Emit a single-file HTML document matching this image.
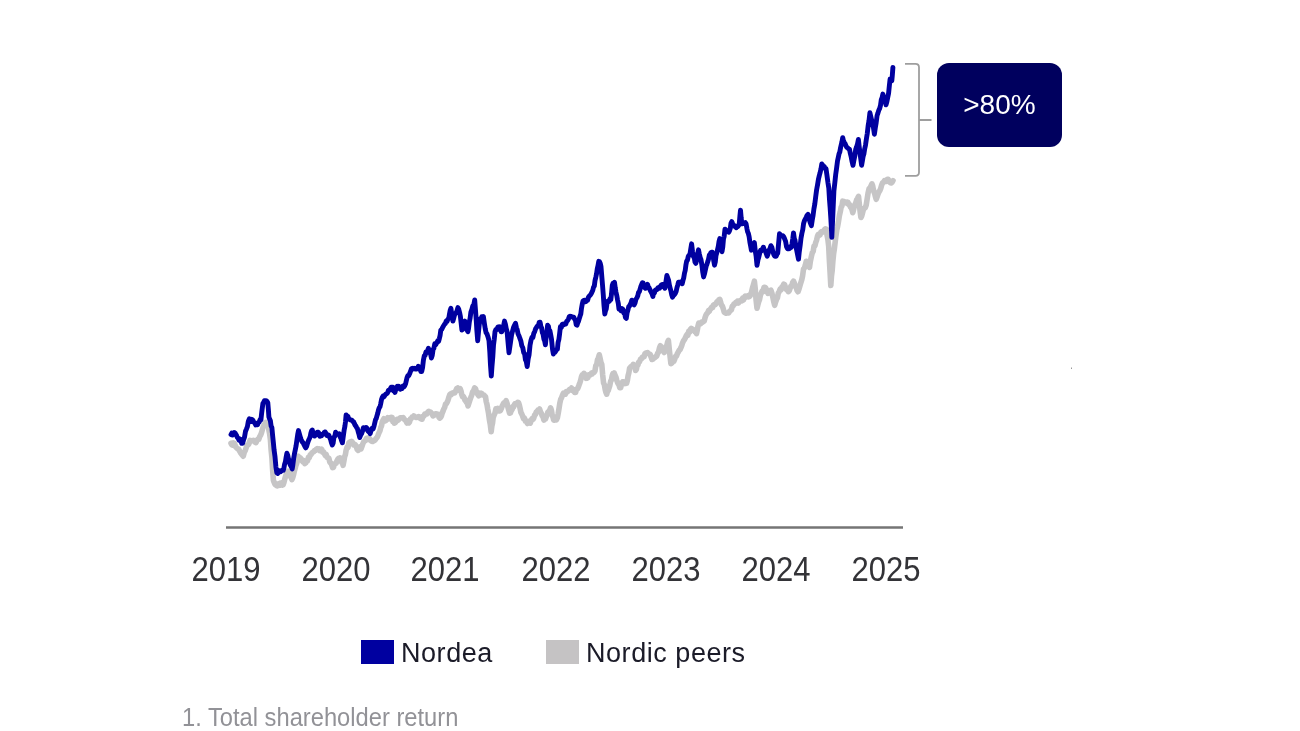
<!DOCTYPE html>
<html lang="en">
<head>
<meta charset="utf-8">
<title>Total shareholder return</title>
<style>
html,body{margin:0;padding:0;background:#fff;}
body{width:1300px;height:731px;position:relative;overflow:hidden;font-family:"Liberation Sans",sans-serif;}
svg{position:absolute;left:0;top:0;}
.yr{position:absolute;top:548.5px;width:120px;margin-left:-60px;text-align:center;font-size:35.5px;line-height:40px;color:#333337;transform:scaleX(0.874);transform-origin:50% 50%;white-space:nowrap;}
.leg{position:absolute;top:637px;letter-spacing:0.55px;font-size:27px;line-height:32px;color:#1b1b28;white-space:nowrap;}
.sw{position:absolute;top:639.5px;width:33px;height:24.5px;}
.box{position:absolute;left:937.2px;top:63.2px;width:124.5px;height:84px;border-radius:12px;background:#00005e;color:#fff;font-size:28px;line-height:84px;text-align:center;}
.foot{position:absolute;left:182px;top:700.7px;font-size:25px;line-height:32px;color:#929297;white-space:nowrap;transform:scaleX(0.9485);transform-origin:0 50%;}
</style>
</head>
<body>
<svg width="1300" height="731" viewBox="0 0 1300 731">
<path d="M231.0 443.2 L231.8 444.9 L232.6 445.2 L233.4 442.9 L234.2 443.3 L235.0 444.9 L235.9 447.1 L236.8 448.0 L237.7 449.0 L238.6 449.1 L239.5 450.9 L240.4 452.5 L241.4 453.9 L242.4 455.1 L243.3 456.2 L244.2 452.5 L245.2 450.7 L246.1 447.9 L247.0 445.6 L247.8 445.0 L248.5 444.5 L249.2 443.0 L250.0 440.4 L250.9 440.8 L251.7 440.9 L252.6 440.6 L253.4 440.3 L254.3 440.6 L255.1 442.2 L256.0 442.6 L256.9 440.6 L257.8 439.2 L258.8 439.3 L259.7 436.7 L260.6 435.1 L261.5 432.9 L262.4 429.5 L263.3 426.5 L264.2 425.0 L265.1 423.1 L265.9 422.4 L266.6 423.9 L267.4 425.7 L268.1 424.6 L268.9 430.1 L269.6 433.6 L270.4 439.6 L271.1 449.8 L271.9 457.7 L272.6 469.8 L273.4 480.2 L274.1 482.2 L274.9 484.1 L275.6 485.0 L276.4 485.5 L277.3 485.8 L278.3 483.9 L279.2 485.2 L280.2 483.2 L280.9 485.0 L281.7 482.9 L282.4 485.1 L283.2 484.7 L283.9 482.7 L284.7 479.3 L285.4 476.9 L286.2 474.2 L286.9 473.2 L287.7 473.5 L288.4 471.2 L289.3 473.3 L290.1 476.3 L291.0 477.0 L291.9 479.5 L292.7 477.8 L293.5 475.0 L294.4 470.9 L295.2 468.2 L295.9 465.4 L296.7 463.5 L297.4 459.9 L298.2 456.2 L299.1 457.3 L300.1 457.6 L301.1 459.0 L302.0 460.7 L302.9 461.8 L303.9 460.8 L304.8 463.6 L305.7 462.9 L306.6 460.6 L307.5 460.9 L308.4 457.4 L309.3 457.7 L310.2 454.7 L311.1 454.5 L311.9 453.0 L312.8 452.2 L313.6 451.8 L314.5 450.5 L315.4 450.4 L316.3 449.3 L317.2 448.6 L318.1 449.2 L319.0 448.8 L319.9 450.7 L320.8 450.4 L321.7 449.3 L322.6 452.2 L323.5 451.8 L324.4 453.7 L325.3 455.4 L326.2 454.5 L327.1 457.3 L328.0 457.8 L328.9 458.4 L329.8 462.2 L330.8 463.0 L331.7 464.8 L332.6 467.6 L333.5 467.4 L334.4 463.7 L335.2 463.6 L336.1 463.2 L337.0 460.8 L337.8 459.3 L338.5 458.4 L339.2 459.7 L340.0 457.8 L340.8 459.4 L341.6 462.2 L342.3 462.0 L343.1 465.3 L343.9 461.1 L344.6 456.8 L345.4 454.6 L346.1 450.3 L347.1 447.0 L348.0 447.5 L348.9 442.7 L349.9 442.0 L350.8 443.1 L351.7 441.5 L352.6 442.6 L353.5 444.8 L354.4 444.3 L355.3 444.8 L356.3 446.4 L357.2 449.4 L358.2 450.3 L359.1 449.0 L360.0 447.0 L361.0 448.9 L361.9 446.5 L362.8 443.8 L363.7 441.8 L364.6 441.1 L365.5 440.3 L366.4 438.3 L367.3 439.5 L368.2 438.1 L369.0 439.3 L369.9 438.9 L370.8 440.6 L371.7 441.3 L372.6 441.5 L373.5 440.8 L374.4 440.7 L375.3 439.7 L376.2 438.3 L377.1 437.5 L378.1 435.1 L379.1 432.5 L380.0 430.7 L380.8 427.3 L381.5 425.9 L382.2 422.3 L383.0 420.2 L383.9 418.8 L384.9 419.6 L385.8 420.7 L386.7 419.4 L387.6 417.8 L388.5 418.8 L389.5 417.8 L390.4 417.7 L391.3 417.2 L392.1 417.6 L392.8 421.6 L393.6 421.0 L394.3 423.2 L395.2 422.8 L396.1 421.4 L397.0 419.5 L397.9 420.3 L398.8 419.4 L399.7 418.2 L400.5 417.8 L401.4 417.7 L402.3 417.9 L403.1 417.6 L404.0 418.7 L404.9 420.1 L405.9 420.6 L406.9 423.0 L407.8 422.5 L408.7 422.9 L409.5 422.1 L410.4 418.9 L411.2 418.6 L412.1 417.1 L412.9 417.2 L413.8 416.0 L414.8 416.6 L415.8 417.4 L416.7 417.4 L417.7 417.0 L418.6 416.7 L419.4 417.6 L420.3 418.4 L421.1 417.3 L422.0 419.2 L423.0 416.4 L423.9 416.2 L424.9 413.9 L425.9 413.7 L426.8 414.0 L427.8 412.1 L428.8 411.3 L429.7 412.1 L430.5 412.1 L431.4 413.2 L432.2 414.1 L433.0 415.9 L433.8 415.4 L434.6 414.7 L435.5 413.7 L436.3 413.7 L437.2 414.9 L438.0 414.4 L438.9 417.2 L439.7 418.1 L440.6 417.5 L441.4 416.0 L442.2 413.0 L443.1 411.0 L443.9 408.8 L444.7 407.4 L445.5 404.2 L446.4 403.6 L447.2 402.2 L448.0 400.2 L448.9 397.1 L449.7 394.8 L450.5 394.0 L451.3 394.6 L452.1 393.0 L453.0 393.2 L453.8 392.9 L454.8 392.9 L455.7 390.8 L456.7 388.6 L457.6 388.0 L458.4 390.1 L459.2 389.0 L460.1 388.6 L460.9 390.7 L461.7 394.3 L462.5 396.7 L463.3 396.3 L464.1 397.8 L465.0 400.2 L465.8 400.0 L466.5 402.5 L467.3 402.5 L468.0 406.0 L468.9 403.1 L469.8 400.3 L470.7 397.8 L471.7 395.3 L472.6 392.0 L473.6 390.7 L474.6 388.0 L475.4 388.4 L476.2 390.7 L477.1 392.6 L477.9 394.6 L478.8 395.8 L479.6 393.1 L480.5 395.0 L481.3 393.2 L482.2 394.0 L483.0 394.9 L483.9 395.0 L484.7 395.9 L485.5 396.7 L486.2 401.5 L487.0 404.5 L487.7 408.8 L488.5 413.1 L489.4 419.7 L490.3 424.6 L491.2 431.8 L491.9 425.8 L492.5 423.3 L493.2 417.5 L494.1 415.0 L495.0 413.1 L495.9 408.8 L496.9 409.9 L497.9 408.5 L498.8 410.9 L499.8 411.0 L500.6 410.2 L501.4 408.4 L502.2 406.0 L503.0 404.4 L503.8 403.0 L504.6 402.4 L505.3 402.4 L506.1 400.6 L507.0 403.1 L507.9 407.0 L508.7 410.0 L509.6 413.2 L510.4 412.9 L511.2 410.8 L512.1 409.5 L512.9 406.6 L513.7 406.8 L514.5 404.4 L515.2 403.5 L516.0 403.5 L516.9 403.2 L517.7 402.3 L518.6 402.8 L519.4 405.4 L520.2 408.9 L520.9 412.4 L521.7 413.9 L522.6 416.0 L523.5 418.6 L524.5 418.2 L525.4 421.3 L526.4 421.2 L527.4 423.5 L528.3 421.3 L529.3 422.5 L530.3 423.1 L531.2 420.2 L532.0 418.7 L532.9 419.5 L533.7 418.2 L534.6 415.1 L535.4 414.5 L536.3 412.0 L537.1 411.4 L537.9 410.2 L538.8 410.5 L539.6 409.0 L540.5 411.8 L541.3 413.3 L542.2 415.7 L543.0 416.7 L543.9 420.1 L544.7 419.0 L545.5 418.9 L546.2 417.1 L547.0 415.1 L547.9 412.1 L548.8 411.5 L549.7 410.3 L550.6 407.8 L551.4 410.1 L552.2 415.1 L552.9 416.9 L553.7 420.1 L554.6 420.1 L555.5 418.6 L556.5 419.7 L557.4 417.6 L558.2 413.5 L559.1 408.0 L559.9 402.8 L560.7 399.3 L561.6 397.7 L562.4 395.4 L563.4 393.2 L564.4 394.2 L565.3 394.3 L566.3 391.5 L567.3 391.7 L568.2 391.0 L569.0 390.2 L569.9 389.2 L570.7 389.4 L571.6 388.0 L572.4 390.4 L573.2 390.8 L573.9 391.2 L574.7 392.4 L575.6 392.4 L576.5 389.1 L577.5 388.9 L578.4 386.8 L579.1 384.8 L579.9 382.7 L580.6 380.5 L581.4 377.0 L582.2 374.9 L583.1 374.9 L583.9 373.3 L584.7 374.2 L585.5 376.3 L586.2 378.4 L587.0 378.2 L587.9 377.6 L588.7 374.8 L589.6 375.2 L590.4 374.9 L591.3 373.3 L592.2 373.8 L593.1 372.5 L594.1 372.4 L595.0 370.8 L595.8 365.7 L596.7 364.7 L597.5 359.7 L598.4 357.9 L599.3 354.8 L600.1 358.4 L601.0 362.5 L601.8 364.6 L602.7 375.0 L603.6 383.1 L604.4 384.7 L605.2 389.6 L605.9 392.2 L606.7 394.2 L607.5 391.1 L608.2 390.6 L609.0 388.0 L609.8 385.6 L610.6 381.4 L611.4 379.9 L612.2 375.7 L612.9 373.7 L613.5 374.2 L614.2 373.0 L615.1 375.2 L615.9 377.1 L616.8 380.3 L617.5 382.4 L618.3 384.0 L619.0 385.0 L619.8 387.8 L620.7 387.7 L621.6 383.5 L622.6 381.8 L623.5 381.8 L624.3 382.1 L625.0 383.6 L625.8 383.4 L626.6 383.3 L627.4 380.3 L628.1 375.8 L628.9 372.6 L629.6 368.3 L630.5 367.2 L631.4 366.4 L632.3 366.4 L633.2 364.4 L634.1 365.2 L634.9 366.6 L635.6 370.5 L636.4 369.2 L637.1 365.4 L637.9 365.0 L638.6 362.2 L639.5 361.8 L640.5 359.3 L641.5 358.8 L642.4 357.0 L643.3 357.1 L644.1 356.6 L645.0 353.7 L645.9 353.0 L646.7 352.9 L647.6 352.5 L648.5 353.5 L649.4 354.1 L650.2 354.4 L651.1 357.1 L652.0 359.5 L652.9 359.2 L653.9 358.0 L654.8 357.8 L655.8 356.6 L656.7 356.2 L657.6 353.4 L658.5 352.1 L659.5 347.8 L660.4 345.7 L661.4 347.8 L662.3 349.1 L663.2 350.9 L664.2 352.5 L665.0 351.3 L665.9 346.4 L666.7 346.2 L667.6 342.2 L668.4 340.4 L669.2 348.6 L670.1 356.8 L670.9 363.7 L671.9 363.0 L672.8 361.1 L673.8 361.3 L674.7 359.2 L675.6 356.2 L676.5 356.0 L677.4 353.5 L678.3 352.1 L679.2 350.2 L680.1 349.5 L680.9 347.7 L681.8 345.4 L682.6 342.8 L683.5 340.8 L684.3 339.8 L685.2 338.2 L686.1 336.0 L686.9 334.7 L687.8 335.4 L688.7 331.4 L689.6 332.2 L690.4 329.4 L691.3 328.4 L692.2 328.9 L693.0 329.6 L693.9 329.7 L694.8 331.7 L695.6 331.7 L696.5 333.6 L697.3 329.9 L698.0 326.0 L698.8 323.1 L699.7 324.0 L700.6 323.8 L701.5 322.0 L702.4 322.3 L703.3 321.6 L704.2 321.1 L705.1 317.5 L706.0 315.0 L706.9 313.6 L707.8 312.6 L708.5 310.7 L709.3 311.2 L710.0 309.4 L710.8 308.8 L711.7 307.3 L712.6 307.5 L713.6 304.8 L714.5 304.5 L715.4 304.6 L716.3 303.2 L717.1 301.6 L718.0 302.0 L718.9 299.7 L719.8 299.3 L720.7 302.7 L721.5 305.1 L722.4 306.1 L723.3 308.9 L724.1 311.9 L725.0 312.8 L725.9 313.2 L726.8 313.0 L727.8 313.0 L728.7 312.9 L729.6 311.3 L730.5 310.6 L731.4 309.7 L732.3 306.2 L733.2 305.7 L734.1 303.8 L735.0 303.9 L735.8 302.5 L736.7 302.2 L737.5 301.1 L738.4 303.0 L739.2 300.8 L740.1 300.8 L741.0 300.2 L741.8 300.9 L742.7 298.2 L743.5 300.0 L744.4 297.0 L745.2 296.1 L746.1 297.0 L747.0 296.1 L747.9 295.7 L748.8 296.9 L749.7 296.4 L750.6 294.8 L751.5 292.2 L752.5 287.8 L753.5 284.7 L754.4 281.2 L755.3 289.4 L756.1 300.3 L757.0 308.3 L757.8 305.0 L758.7 301.7 L759.5 299.7 L760.4 295.3 L761.2 293.3 L762.1 291.2 L763.0 291.5 L764.0 287.5 L764.9 287.2 L765.6 287.7 L766.4 289.4 L767.1 291.0 L767.9 293.3 L768.6 292.3 L769.4 291.0 L770.1 290.5 L770.9 290.2 L771.9 293.2 L772.8 297.0 L773.8 301.9 L774.7 305.3 L775.6 302.1 L776.5 299.5 L777.4 297.9 L778.3 293.1 L779.2 291.7 L780.1 289.1 L781.0 289.8 L781.9 287.0 L782.8 286.5 L783.7 284.2 L784.6 284.6 L785.5 287.3 L786.5 289.7 L787.4 289.7 L788.3 291.7 L789.2 290.8 L790.0 288.5 L790.9 286.1 L791.8 286.2 L792.6 282.6 L793.5 281.2 L794.4 283.2 L795.3 285.8 L796.2 287.0 L797.1 290.6 L798.0 291.7 L799.0 289.0 L799.9 286.0 L800.8 282.8 L801.8 279.7 L802.6 275.9 L803.5 269.1 L804.4 268.0 L805.4 264.9 L806.3 261.3 L807.1 262.7 L807.9 264.0 L808.7 265.9 L809.5 267.3 L810.4 261.1 L811.4 256.4 L812.3 252.7 L813.2 251.4 L814.0 246.1 L814.9 245.8 L815.8 242.2 L816.6 240.2 L817.5 236.2 L818.4 234.2 L819.2 234.3 L820.0 235.0 L820.9 232.0 L821.8 231.6 L822.6 232.1 L823.5 230.9 L824.5 229.6 L825.4 228.8 L826.3 229.1 L827.1 235.4 L827.9 239.5 L828.7 246.5 L829.4 260.9 L830.1 272.9 L830.8 285.5 L831.5 275.9 L832.2 270.3 L832.9 260.9 L833.6 253.9 L834.4 248.5 L835.1 242.6 L835.9 236.2 L836.7 230.5 L837.5 227.0 L838.4 221.9 L839.4 215.5 L840.3 211.7 L841.1 207.3 L841.9 206.0 L842.7 201.2 L843.6 202.3 L844.4 201.6 L845.3 202.3 L846.1 203.0 L847.0 202.1 L847.9 202.2 L848.7 204.5 L849.5 204.6 L850.4 206.9 L851.2 207.7 L852.0 209.6 L852.8 212.7 L853.8 208.6 L854.7 205.0 L855.7 203.1 L856.6 200.0 L857.6 198.3 L858.5 196.4 L859.3 203.8 L860.1 211.5 L860.9 217.5 L861.7 216.1 L862.5 213.0 L863.3 209.8 L864.3 208.2 L865.2 207.9 L866.2 205.0 L867.2 198.6 L868.1 192.9 L869.1 188.7 L870.0 188.1 L871.0 185.9 L871.9 183.9 L872.6 185.6 L873.2 188.7 L873.9 191.6 L874.7 193.6 L875.4 196.5 L876.2 199.3 L877.2 196.5 L878.1 193.9 L879.1 191.6 L880.0 190.3 L880.8 188.2 L881.6 185.3 L882.5 183.0 L883.5 182.2 L884.4 180.8 L885.4 181.5 L886.3 181.4 L887.3 179.2 L888.2 179.3 L889.2 181.7 L890.1 182.6 L891.1 183.0 L892.0 182.3 L893.0 180.6" fill="none" stroke="#c6c5c6" stroke-width="5.6" stroke-linejoin="round" stroke-linecap="round"/>
<path d="M231.0 434.6 L231.8 433.1 L232.6 435.0 L233.4 434.4 L234.2 432.5 L235.0 432.9 L235.8 434.2 L236.5 435.3 L237.2 437.3 L238.0 438.1 L238.9 440.1 L239.8 438.9 L240.8 439.8 L241.7 443.4 L242.6 443.4 L243.6 439.7 L244.5 437.2 L245.5 431.3 L246.4 429.2 L247.4 426.6 L248.3 421.5 L249.3 418.9 L250.2 421.0 L251.1 421.5 L252.0 419.4 L252.9 420.1 L253.8 422.3 L254.8 423.0 L255.7 424.9 L256.7 423.6 L257.6 424.6 L258.4 422.5 L259.2 422.1 L260.1 419.6 L260.9 420.0 L261.6 413.6 L262.2 408.8 L262.9 403.5 L263.6 402.6 L264.4 400.8 L265.1 400.8 L266.0 400.6 L266.9 401.2 L267.8 402.8 L268.4 409.8 L268.9 417.0 L269.6 419.0 L270.4 420.8 L271.1 426.0 L271.9 427.6 L272.6 435.3 L273.4 443.1 L274.1 450.2 L275.0 456.7 L275.9 466.8 L276.8 472.7 L277.8 473.4 L278.8 470.6 L279.7 470.8 L280.7 471.6 L281.7 470.5 L282.4 470.4 L283.2 470.4 L283.9 468.2 L284.6 464.2 L285.4 461.8 L286.1 457.5 L286.9 453.2 L287.7 455.1 L288.4 458.5 L289.2 460.7 L289.9 464.0 L290.7 465.9 L291.4 466.9 L292.2 468.9 L292.9 464.5 L293.7 458.1 L294.4 454.1 L295.2 450.2 L296.0 446.3 L296.9 440.1 L297.7 434.5 L298.5 430.6 L299.4 433.8 L300.3 437.2 L301.2 439.6 L302.1 441.8 L303.0 442.5 L303.9 444.4 L304.8 446.3 L305.7 447.9 L306.6 446.5 L307.5 443.4 L308.4 440.8 L309.3 438.8 L310.2 436.6 L310.9 432.9 L311.6 430.7 L312.3 430.0 L313.0 432.7 L313.8 435.5 L314.5 436.0 L315.4 435.3 L316.4 433.8 L317.4 432.1 L318.3 432.2 L319.0 433.5 L319.8 436.3 L320.5 436.0 L321.4 435.9 L322.4 434.2 L323.4 434.3 L324.3 432.2 L325.2 431.9 L326.1 433.4 L327.0 435.4 L327.9 434.8 L328.8 435.2 L329.7 437.5 L330.6 439.4 L331.4 442.7 L332.3 445.0 L333.1 443.3 L334.0 437.0 L334.8 436.3 L335.6 432.2 L336.5 433.6 L337.5 434.2 L338.4 434.1 L339.3 433.7 L340.1 437.0 L340.9 438.3 L341.6 440.7 L342.4 442.8 L343.2 437.0 L344.1 430.3 L344.9 426.2 L345.5 421.7 L346.1 414.9 L346.9 416.2 L347.8 416.2 L348.6 418.3 L349.4 419.4 L350.2 419.8 L351.1 419.9 L351.9 420.3 L352.8 421.4 L353.6 421.7 L354.4 423.6 L355.1 425.1 L355.9 426.1 L356.7 427.7 L357.4 428.6 L358.2 431.7 L358.9 434.0 L359.7 437.5 L360.6 435.3 L361.5 433.8 L362.5 431.1 L363.4 427.7 L364.3 428.9 L365.3 429.1 L366.2 427.5 L367.2 428.5 L367.9 430.9 L368.7 431.7 L369.4 431.1 L370.2 433.7 L371.1 430.3 L372.1 428.4 L373.1 428.9 L374.0 426.2 L374.8 422.8 L375.5 419.7 L376.2 418.7 L377.0 415.7 L377.8 413.0 L378.5 409.8 L379.2 407.9 L380.0 406.7 L380.7 403.8 L381.5 399.6 L382.2 397.6 L383.1 396.1 L384.0 396.8 L384.9 395.2 L385.8 394.1 L386.7 393.9 L387.6 392.7 L388.5 390.1 L389.4 390.1 L390.2 389.1 L391.1 387.2 L392.0 387.1 L392.8 387.2 L393.5 391.0 L394.2 391.1 L395.0 392.4 L395.8 389.4 L396.5 388.7 L397.3 386.3 L398.1 388.1 L398.8 386.3 L399.6 387.0 L400.3 389.3 L401.2 387.4 L402.1 388.5 L403.0 386.0 L403.9 387.0 L404.8 385.6 L405.6 383.7 L406.3 380.8 L407.1 377.4 L407.8 375.8 L408.7 375.8 L409.6 373.8 L410.5 371.4 L411.4 368.9 L412.3 368.3 L413.2 368.9 L414.1 368.2 L415.0 369.0 L415.9 368.3 L416.8 369.0 L417.5 368.8 L418.3 366.3 L419.0 367.0 L419.9 367.9 L420.8 371.5 L421.7 371.5 L422.6 367.4 L423.4 360.3 L424.3 355.7 L425.1 355.3 L425.9 352.1 L426.8 352.6 L427.6 350.5 L428.4 348.2 L429.1 350.4 L429.9 352.3 L430.6 354.0 L431.4 358.0 L432.2 355.6 L433.1 349.4 L433.9 348.3 L434.8 343.7 L435.8 344.6 L436.7 342.8 L437.7 340.9 L438.6 341.4 L439.3 338.8 L440.1 335.4 L440.8 330.1 L441.7 329.4 L442.6 327.4 L443.6 325.7 L444.5 324.3 L445.4 323.4 L446.2 321.1 L447.1 321.3 L447.9 319.2 L448.8 318.1 L449.5 313.9 L450.2 310.3 L450.9 308.3 L451.6 313.1 L452.2 316.2 L452.9 321.1 L453.6 318.6 L454.4 315.5 L455.1 313.6 L456.0 312.8 L457.0 310.9 L457.9 307.6 L458.7 309.1 L459.6 312.6 L460.4 316.6 L461.1 322.8 L461.9 330.1 L462.6 329.4 L463.4 326.5 L464.1 322.8 L464.9 321.1 L465.6 322.8 L466.4 327.0 L467.1 330.1 L467.9 331.7 L468.6 328.2 L469.4 321.4 L470.1 318.2 L470.9 312.1 L471.8 309.7 L472.8 306.0 L473.8 304.6 L474.7 300.0 L475.4 309.0 L476.2 319.6 L476.9 330.9 L477.7 340.7 L478.5 332.1 L479.2 325.1 L480.0 318.9 L480.9 319.6 L481.7 316.8 L482.5 318.0 L483.4 316.6 L484.3 322.9 L485.2 328.6 L486.1 332.7 L487.1 334.2 L488.1 337.2 L489.0 340.7 L489.8 351.8 L490.5 365.4 L491.3 376.0 L492.0 366.1 L492.8 356.9 L493.5 345.2 L494.2 339.7 L495.0 331.7 L495.9 329.4 L496.9 329.6 L497.9 327.0 L498.8 327.1 L499.6 326.8 L500.3 328.0 L501.1 331.7 L501.8 331.7 L502.7 329.1 L503.6 325.7 L504.5 321.1 L505.4 324.1 L506.2 328.5 L507.1 331.7 L508.1 343.1 L509.0 352.7 L509.9 346.3 L510.7 340.9 L511.6 334.7 L512.6 330.9 L513.5 327.6 L514.5 325.3 L515.5 323.2 L516.4 327.6 L517.2 329.7 L518.1 334.0 L519.0 335.8 L520.0 338.7 L520.9 341.1 L521.8 345.7 L522.8 347.8 L523.7 352.6 L524.6 353.7 L525.4 359.6 L526.3 361.5 L527.2 366.5 L528.2 358.7 L529.1 354.6 L530.0 345.4 L531.0 340.3 L532.0 337.2 L532.9 337.4 L533.8 333.3 L534.8 331.3 L535.7 328.6 L536.6 327.2 L537.5 325.9 L538.3 326.0 L539.2 322.4 L540.1 322.2 L540.9 326.5 L541.6 327.9 L542.4 332.8 L543.1 334.3 L543.9 339.1 L544.6 340.6 L545.4 344.8 L546.1 337.5 L546.9 331.7 L547.6 325.2 L548.4 326.2 L549.1 330.2 L549.9 330.6 L550.6 334.3 L551.5 339.3 L552.5 349.0 L553.4 354.0 L554.2 352.4 L555.0 352.4 L555.8 351.0 L556.6 349.6 L557.4 349.3 L558.1 342.3 L558.9 339.3 L559.6 333.9 L560.4 326.7 L561.3 327.6 L562.2 324.3 L563.1 324.0 L564.0 324.7 L564.9 323.7 L565.8 324.0 L566.7 321.3 L567.5 320.6 L568.4 319.2 L569.3 316.7 L570.2 316.2 L571.1 316.9 L572.0 316.8 L572.9 317.2 L573.8 317.3 L574.7 319.2 L575.5 320.5 L576.2 324.7 L577.0 325.2 L577.8 322.8 L578.5 321.2 L579.2 318.9 L580.0 316.2 L580.8 313.9 L581.5 308.3 L582.2 304.3 L583.0 301.2 L583.9 300.4 L584.9 300.2 L585.8 301.7 L586.7 300.4 L587.6 300.3 L588.5 297.0 L589.5 295.8 L590.4 295.1 L591.3 293.6 L592.0 292.0 L592.8 290.2 L593.5 287.2 L594.3 286.1 L595.0 280.6 L595.8 277.3 L596.5 274.1 L597.3 268.5 L598.0 265.7 L598.8 261.3 L599.5 261.7 L600.3 263.5 L601.0 266.6 L601.8 276.5 L602.5 284.9 L603.3 295.1 L604.0 305.5 L604.8 314.0 L605.5 310.8 L606.3 308.8 L607.0 303.3 L607.8 301.2 L608.5 300.8 L609.3 301.4 L610.0 298.7 L610.8 299.7 L611.5 293.9 L612.3 285.2 L613.0 283.2 L613.8 284.1 L614.5 282.2 L615.3 288.3 L616.0 292.2 L616.8 295.7 L617.5 299.7 L618.3 303.5 L619.0 309.3 L620.0 309.3 L620.9 310.6 L621.8 308.6 L622.8 309.3 L623.7 312.8 L624.5 312.7 L625.4 317.4 L626.3 318.3 L627.1 312.8 L628.0 309.7 L628.8 306.3 L629.5 306.1 L630.3 304.2 L631.0 303.0 L631.8 300.2 L632.6 302.8 L633.3 304.1 L634.1 304.8 L635.0 303.1 L636.0 299.2 L636.9 297.8 L637.8 295.7 L638.5 292.4 L639.3 291.9 L640.0 289.5 L640.8 286.7 L641.6 284.6 L642.3 282.8 L643.1 282.9 L643.9 286.1 L644.6 287.4 L645.4 288.2 L646.1 287.1 L646.9 285.8 L647.6 284.4 L648.4 287.3 L649.1 287.8 L649.9 289.7 L650.6 291.1 L651.4 292.6 L652.1 294.0 L652.9 296.5 L653.6 293.0 L654.4 293.0 L655.1 290.5 L656.0 289.8 L656.9 289.8 L657.9 287.7 L658.8 288.2 L659.7 288.2 L660.5 286.1 L661.2 285.1 L662.0 284.6 L662.7 284.4 L663.4 286.7 L664.2 286.6 L664.9 288.2 L665.6 283.6 L666.2 280.0 L666.9 275.4 L667.7 277.8 L668.6 280.4 L669.4 285.2 L670.2 288.3 L671.0 291.2 L671.7 294.7 L672.5 297.2 L673.4 295.5 L674.4 294.8 L675.3 293.4 L676.2 291.2 L677.0 287.4 L677.7 285.2 L678.5 282.2 L679.4 282.5 L680.4 282.1 L681.3 283.0 L682.2 283.7 L683.0 280.4 L683.7 278.0 L684.5 273.2 L685.2 270.5 L686.0 264.4 L686.7 261.1 L687.5 260.1 L688.2 256.7 L689.0 255.2 L689.8 255.1 L690.7 249.5 L691.6 243.8 L692.5 251.4 L693.5 256.6 L694.3 257.8 L695.0 262.0 L695.8 263.4 L696.7 260.1 L697.6 253.7 L698.5 249.8 L699.3 253.7 L700.2 257.5 L701.0 259.6 L701.9 265.0 L702.7 271.8 L703.6 276.9 L704.5 273.9 L705.4 269.7 L706.3 265.6 L707.0 264.1 L707.8 261.6 L708.5 259.2 L709.3 255.1 L710.0 254.6 L710.8 252.7 L711.5 252.2 L712.3 252.3 L713.0 255.7 L713.8 261.1 L714.5 265.2 L715.3 261.9 L716.0 255.5 L716.8 252.8 L717.5 249.8 L718.3 246.3 L719.0 241.6 L719.8 238.5 L720.5 242.9 L721.3 246.2 L722.0 251.7 L722.8 246.8 L723.5 238.9 L724.2 236.3 L725.0 229.1 L726.0 230.8 L726.9 231.0 L727.8 230.6 L728.8 232.1 L729.5 230.8 L730.3 228.3 L731.0 223.1 L731.8 221.6 L732.7 223.7 L733.6 225.1 L734.5 225.7 L735.4 227.0 L736.3 227.6 L737.0 226.3 L737.8 226.7 L738.5 225.7 L739.3 223.1 L739.9 216.3 L740.5 210.3 L741.2 218.1 L741.9 223.9 L742.7 223.7 L743.6 222.8 L744.4 223.3 L745.3 222.7 L746.1 223.9 L746.9 228.4 L747.6 231.8 L748.4 233.6 L749.1 236.5 L749.9 242.2 L750.6 245.8 L751.4 250.2 L752.1 247.1 L752.9 245.8 L753.6 243.8 L754.4 242.7 L755.3 251.0 L756.1 256.1 L757.0 265.2 L757.9 260.2 L758.8 257.0 L759.7 253.2 L760.6 250.2 L761.5 250.6 L762.5 249.0 L763.4 247.2 L764.4 250.5 L765.3 250.8 L766.2 253.3 L767.2 256.2 L768.1 253.7 L769.0 250.2 L770.0 248.6 L770.9 245.7 L771.9 247.5 L772.8 251.5 L773.8 254.5 L774.7 256.2 L775.5 256.4 L776.2 256.2 L777.0 254.1 L777.7 253.2 L778.6 243.4 L779.5 233.6 L780.3 235.4 L781.2 235.7 L782.0 235.7 L782.9 235.7 L783.7 236.7 L784.7 239.0 L785.6 241.4 L786.5 246.7 L787.5 248.7 L788.5 247.1 L789.4 248.7 L790.3 247.7 L791.3 247.2 L792.0 243.9 L792.8 238.5 L793.5 232.9 L794.3 238.7 L795.0 240.3 L795.8 245.7 L796.7 250.2 L797.6 254.9 L798.5 259.2 L799.3 251.6 L800.2 245.2 L801.0 238.2 L801.9 233.3 L802.8 229.5 L803.6 223.4 L804.5 220.6 L805.4 218.8 L806.2 217.3 L807.1 215.3 L808.0 214.3 L808.9 216.8 L809.7 220.9 L810.5 223.4 L811.4 225.7 L812.2 220.3 L813.1 215.3 L813.9 209.0 L814.8 204.0 L815.7 196.8 L816.6 189.9 L817.6 184.5 L818.5 179.0 L819.3 175.6 L820.1 172.7 L821.0 168.8 L821.8 164.0 L822.6 165.0 L823.5 167.4 L824.3 166.7 L825.2 168.8 L826.0 168.7 L826.9 174.8 L827.9 182.3 L828.8 188.0 L829.5 199.5 L830.1 207.2 L830.8 217.8 L831.3 226.5 L831.8 237.3 L832.5 222.3 L833.2 206.6 L833.9 191.1 L834.8 183.1 L835.7 174.5 L836.6 168.2 L837.5 161.0 L838.3 157.4 L839.0 153.9 L839.8 152.0 L840.6 147.5 L841.3 144.5 L842.0 141.7 L842.7 137.7 L843.5 141.0 L844.3 142.5 L845.1 143.7 L845.9 145.7 L846.8 147.4 L847.7 147.9 L848.6 148.9 L849.5 149.3 L850.4 153.7 L851.2 157.0 L852.1 161.7 L853.0 165.3 L853.9 160.4 L854.8 156.0 L855.7 149.3 L856.6 146.9 L857.5 143.9 L858.4 139.5 L859.2 146.8 L860.0 153.4 L860.8 159.2 L861.6 165.3 L862.4 160.8 L863.1 156.5 L863.9 154.0 L864.6 149.3 L865.5 145.2 L866.4 138.8 L867.3 133.3 L868.2 125.4 L869.0 120.7 L869.9 112.8 L870.8 116.6 L871.7 120.4 L872.6 124.4 L873.5 127.8 L874.4 134.2 L875.3 128.0 L876.2 122.5 L877.1 115.5 L878.0 112.9 L878.8 110.3 L879.7 108.4 L880.5 105.3 L881.3 99.7 L882.1 97.7 L882.9 94.1 L883.7 98.2 L884.5 100.1 L885.2 101.8 L886.0 104.8 L886.9 101.6 L887.7 97.5 L888.6 93.3 L889.4 85.2 L890.1 79.0 L891.0 79.0 L891.8 80.8 L892.3 75.4 L892.9 67.5" fill="none" stroke="#0000a0" stroke-width="4.9" stroke-linejoin="round" stroke-linecap="round"/>
<line x1="226" y1="527.5" x2="903" y2="527.5" stroke="#757575" stroke-width="2.4"/>
<path d="M905 63.8 H915.5 Q919 63.8 919 67.3 V172.3 Q919 175.8 915.5 175.8 H905 M919 120 H931.5" fill="none" stroke="#9e9e9e" stroke-width="1.8"/>
<rect x="1071" y="367.5" width="1" height="1.5" fill="#999"/>
</svg>
<div class="yr" style="left:225.7px">2019</div>
<div class="yr" style="left:336px">2020</div>
<div class="yr" style="left:445px">2021</div>
<div class="yr" style="left:556.3px">2022</div>
<div class="yr" style="left:665.5px">2023</div>
<div class="yr" style="left:776px">2024</div>
<div class="yr" style="left:886px">2025</div>
<div class="sw" style="left:361px;background:#0000a0"></div>
<div class="leg" style="left:401px">Nordea</div>
<div class="sw" style="left:546px;background:#c5c3c4"></div>
<div class="leg" style="left:586px">Nordic peers</div>
<div class="box">&gt;80%</div>
<div class="foot">1. Total shareholder return</div>
</body>
</html>
